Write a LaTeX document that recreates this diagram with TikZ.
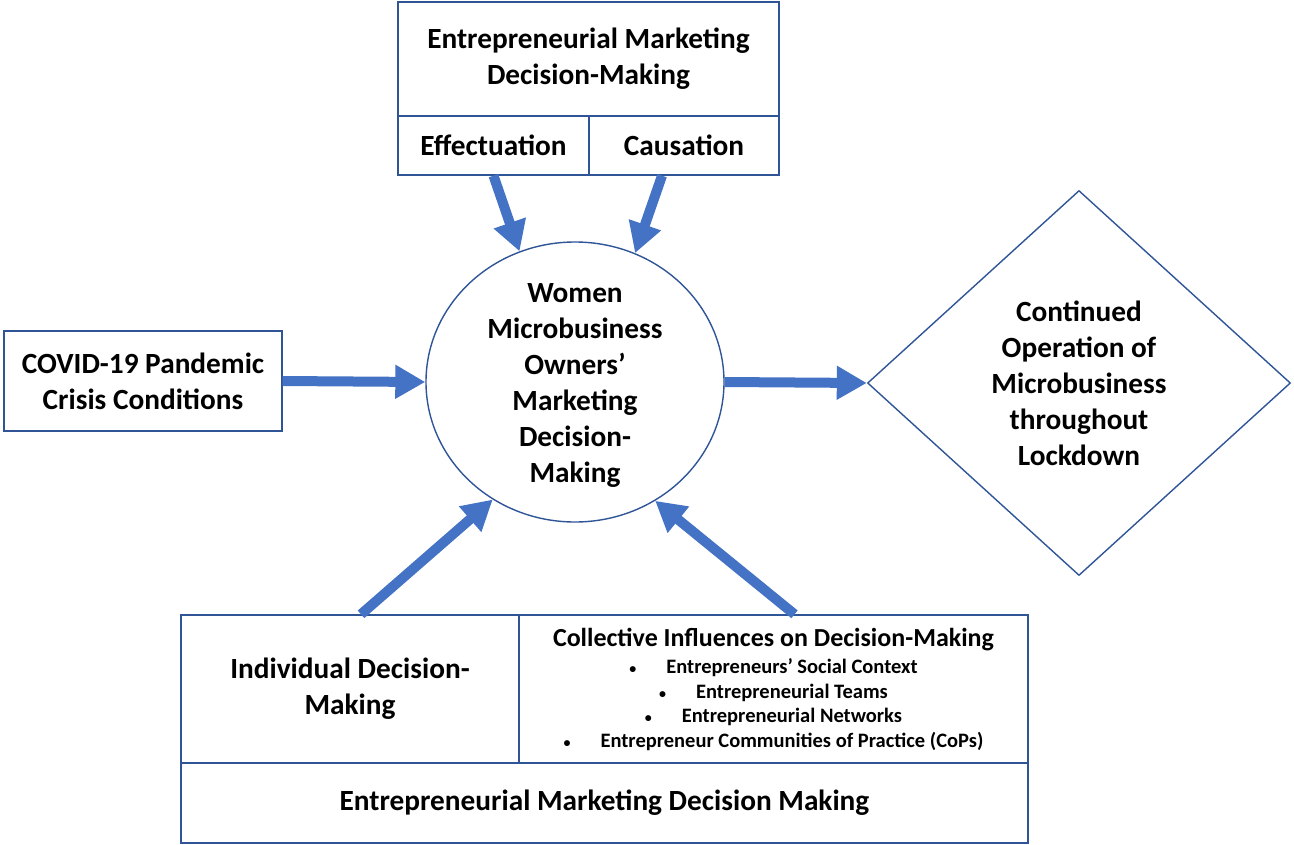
\documentclass[tikz,border=0pt]{standalone}
\usepackage{fontspec}
\setmainfont{Carlito}
\usetikzlibrary{shapes.geometric,arrows.meta}

\definecolor{boxblue}{HTML}{2F5597}
\definecolor{arrowblue}{HTML}{4472C4}
\newcommand{\bigtext}{\fontsize{29.3}{36}\selectfont\bfseries}
\newcommand{\bulitem}[1]{{\fontsize{14}{14}\selectfont\textbullet}\hspace{30pt}#1}

\tikzset{
	cell/.style={draw=boxblue, line width=1.4pt, rectangle, inner sep=0pt, align=center, font=\bigtext},
	flow/.style={draw=arrowblue, line width=10pt, -{Triangle[length=30pt,width=32pt]}}
}

\begin{document}
\begin{tikzpicture}[x=1pt,y=-1pt]
		\useasboundingbox (0,0) rectangle (1294,844);
		% top block
		\node (emdm) at (588.5,59)[cell, minimum width=381pt, minimum height=114pt]{Entrepreneurial Marketing\\Decision-Making};
		\node (eff) at (493.5,145.5)[cell, minimum width=191pt, minimum height=59pt]{Effectuation};
		\node (caus) at (684,145.5)[cell, minimum width=190pt, minimum height=59pt]{Causation};
		% centre and sides
		\node (covid) at (143,381)[cell, minimum width=278pt, minimum height=100pt]{COVID-19 Pandemic\\Crisis Conditions};
		\node (wmo) at (575,382)[draw=boxblue, line width=1.4pt, ellipse, inner sep=0pt, minimum width=298pt, minimum height=280pt]{};
		\node (wmotext) at ([yshift=-3pt]wmo.center)[align=center, font=\bigtext]{Women\\Microbusiness\\Owners’\\Marketing\\Decision-\\Making};
		\node (goal) at (1079,383)[draw=boxblue, line width=1.4pt, diamond, inner sep=0pt, minimum width=423pt, minimum height=385pt, align=center, font=\bigtext]{Continued\\Operation of\\Microbusiness\\throughout\\Lockdown};
		% bottom block
		\node (indiv) at (350,689)[cell, minimum width=338pt, minimum height=148pt]{Individual Decision-\\Making};
		\node (coll) at (773.5,689)[cell, minimum width=509pt, minimum height=148pt, text width=500pt, align=flush center]{\centering\spaceskip=0pt\xspaceskip=0pt
			{\fontsize{26}{31}\selectfont Collective Influences on Decision-Making\par}\vspace{3pt}
			\fontsize{20.5}{24.5}\selectfont
			\bulitem{Entrepreneurs’ Social Context}\par
			\bulitem{Entrepreneurial Teams}\par
			\bulitem{Entrepreneurial Networks}\par
			\bulitem{Entrepreneur Communities of Practice (CoPs)}\par};
		\node (emdmb) at (604.5,803)[cell, minimum width=847pt, minimum height=80pt]{Entrepreneurial Marketing Decision Making};
		% arrows
		\draw[flow] (eff.south) -- (wmo.113);
		\draw[flow] ([xshift=-22pt]caus.south) -- (wmo.65);
		\draw[flow] (covid.east) -- (wmo.west);
		\draw[flow] (wmo.east) -- (goal.west);
		\draw[flow] ([xshift=11pt]indiv.north) -- (wmo.235);
		\draw[flow] ([xshift=21pt]coll.north) -- (wmo.304);
\end{tikzpicture}
\end{document}
